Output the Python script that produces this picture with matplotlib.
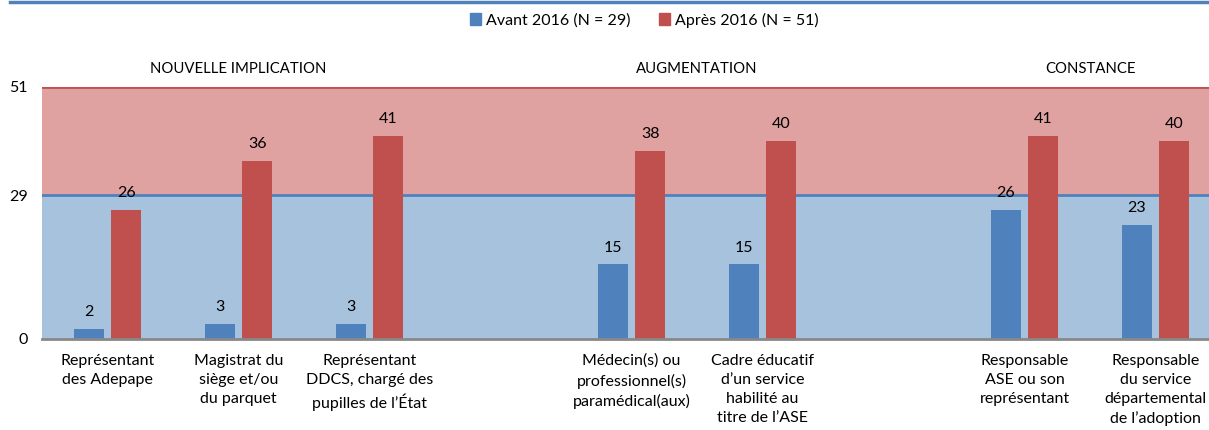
'''
acteurs presents avant / apres 2016
'''

import matplotlib.pyplot as plt
from matplotlib.lines import Line2D
from matplotlib.patches import Patch
import numpy as np

plt.rcParams['font.family'] = ['Lato', 'DejaVu Sans']
plt.rcParams['font.size'] = 11.5

categories = [
    "Représentant\ndes Adepape",
    "Magistrat du\nsiège et/ou\ndu parquet",
    "Représentant\nDDCS, chargé des\npupilles de l’État",
    "Médecin(s) ou\nprofessionnel(s)\nparamédical(aux)",
    "Cadre éducatif\nd’un service\nhabilité au\ntitre de l’ASE",
    "Responsable\nASE ou son\nreprésentant",
    "Responsable\ndu service\ndépartemental\nde l’adoption",
]
avant = [2, 3, 3, 15, 15, 26, 23]
apres = [26, 36, 41, 38, 40, 41, 40]
n_avant = 29
n_apres = 51
groups = ["NOUVELLE IMPLICATION", "AUGMENTATION", "CONSTANCE"]

# slot positions (empty slots between groups)
slots = np.array([0, 1, 2, 4, 5, 7, 8])
group_pos = [1, 4.5, 7.5]

blue = '#4F81BD'
red = '#C0504D'

fig = plt.figure(figsize=(12.09, 4.30), dpi=100)
ax = fig.add_axes([42/1209, 91.5/430, 1179/1209, 252/430])

# background bands
ax.axhspan(0, n_avant, color='#A7C2DC', zorder=0)
ax.axhspan(n_avant, n_apres, color='#E0A1A1', zorder=0)
ax.axhline(n_avant, color=blue, lw=2, zorder=1)
ax.axhline(n_apres, color=red, lw=2, zorder=1)

w = 0.225
off = 0.143
b1 = ax.bar(slots - off, avant, w, color=blue, zorder=2)
b2 = ax.bar(slots + off, apres, w, color=red, zorder=2)
ax.bar_label(b1, padding=7)
ax.bar_label(b2, padding=7)

ax.set_xlim(-0.5, 8.5)
ax.set_ylim(0, n_apres)
ax.set_yticks([0, n_avant, n_apres])
ax.set_xticks(slots)
ax.set_xticklabels(categories, linespacing=1.45, va='top')
ax.tick_params(length=0, pad=11)
ax.tick_params(axis='y', pad=10)
for s in ['top', 'right', 'left']:
    ax.spines[s].set_visible(False)
ax.spines['bottom'].set_color('#888888')
ax.spines['bottom'].set_linewidth(2)
ax.spines['bottom'].set_zorder(3)

for g, p in zip(groups, group_pos):
    ax.text(p, 1.068, g, transform=ax.get_xaxis_transform(), ha='center', va='center',
            fontsize=10.7)

handles = [Patch(color=blue), Patch(color=red)]
fig.legend(handles, [f"Avant 2016 (N = {n_avant})", f"Après 2016 (N = {n_apres})"],
           loc='center', bbox_to_anchor=(0.533, 1 - 20/430), ncol=2, frameon=False,
           handlelength=0.7, handleheight=0.7, handletextpad=0.3, columnspacing=1.8)

fig.add_artist(Line2D([10/1209, 1], [1 - 2/430, 1 - 2/430], color=blue, lw=2.5,
                      transform=fig.transFigure))

fig.savefig('out.png', dpi=100)
